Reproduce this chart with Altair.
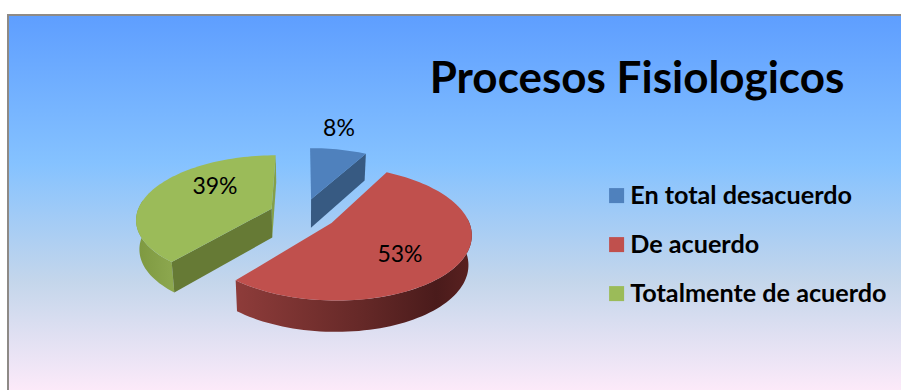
import math
import altair as alt

# Survey shares and their labels
categories = ["En total desacuerdo", "De acuerdo", "Totalmente de acuerdo"]
shares = [8, 53, 39]
top_colors = ["#4F81BD", "#C0504D", "#9BBB59"]
title_text = "Procesos Fisiologicos"

W, H = 901, 390

# Oblique view of the exploded disc: centre, radii, perspective strength, thickness
CX, CY = 303.0, 214.0
RX, RY = 135.0, 62.9
PERSP = 0.15
THICK = 29.0
LOWER_SHRINK = 0.98
EXPLODE = 0.25
RIM_FROM, RIM_TO = 86.0, 278.0
STEP = 2.0

# Slice boundaries in degrees, clockwise from twelve o'clock
total = sum(shares)
bounds = [0.0]
for s in shares:
    bounds.append(bounds[-1] + 360.0 * s / total)


def disc_offset(i):
    mid = math.radians((bounds[i] + bounds[i + 1]) / 2)
    return EXPLODE * math.sin(mid), -EXPLODE * math.cos(mid)


def project(i, u, v, lower=False):
    ou, ov = disc_offset(i)
    uu, vv = u + ou, v + ov
    d = 1 - PERSP * vv
    x = RX * uu / d
    y = CY + RY * vv / d
    if lower:
        x *= LOWER_SHRINK
        y += THICK * (1 + 0.07 * vv)
    return [round(CX + x, 2), round(y, 2)]


def rim(i, a, b, lower=False):
    n = max(2, int(abs(b - a) / STEP) + 1)
    pts = []
    for k in range(n + 1):
        t = math.radians(a + (b - a) * k / n)
        pts.append(project(i, math.sin(t), -math.cos(t), lower))
    return pts


def polygon(ring, cat=None):
    ring = ring + [ring[0]]
    return {
        "type": "Feature",
        "cat": cat,
        "properties": {},
        "geometry": {"type": "Polygon", "coordinates": [ring]},
    }


def top_face(i):
    return polygon([project(i, 0, 0)] + rim(i, bounds[i], bounds[i + 1]), categories[i])


def cut_face(i, angle):
    t = math.radians(angle)
    u, v = math.sin(t), -math.cos(t)
    return polygon([
        project(i, 0, 0),
        project(i, u, v),
        project(i, u, v, True),
        project(i, 0, 0, True),
    ])


def wall(i, a, b):
    return polygon(rim(i, a, b) + rim(i, b, a, True))


def shape(feature, fill):
    return alt.Chart(alt.Data(values=[feature])).mark_geoshape(
        fill=fill, stroke=None
    ).project(type="identity", scale=1, translate=[0, 0])


def ramp(stops):
    return alt.Gradient(
        gradient="linear", x1=0, x2=1, y1=0, y2=0,
        stops=[alt.GradientStop(offset=o, color=c) for o, c in stops],
    )


backdrop = alt.Chart(alt.Data(values=[{}])).mark_rect(
    fill=alt.Gradient(
        gradient="linear", x1=0, x2=0, y1=0, y2=1,
        stops=[
            alt.GradientStop(offset=0, color="#5E9EFF"),
            alt.GradientStop(offset=0.39, color="#85C2FF"),
            alt.GradientStop(offset=0.70, color="#C4D6EB"),
            alt.GradientStop(offset=1, color="#FFEBFA"),
        ],
    ),
    stroke="#8E8A86",
    strokeWidth=2,
).encode(x=alt.value(8), x2=alt.value(W + 6), y=alt.value(15), y2=alt.value(H + 6))

sides = [
    shape(cut_face(0, bounds[1]), "#375A82"),
    shape(cut_face(2, bounds[3]), "#84A04A"),
    shape(wall(2, bounds[2], RIM_TO), ramp([(0, "#7D9840"), (1, "#8DA84F")])),
    shape(cut_face(2, bounds[2]), "#667A35"),
    shape(wall(1, RIM_FROM, bounds[2]),
          ramp([(0, "#8E3C3A"), (0.55, "#642827"), (0.85, "#4A1B1B"), (1, "#5A2120")])),
]

color = alt.Color(
    "cat:N",
    sort=categories,
    scale=alt.Scale(domain=categories, range=top_colors),
    legend=alt.Legend(
        title=None,
        orient="none",
        legendX=604,
        legendY=183,
        symbolType="square",
        symbolSize=225,
        symbolStrokeWidth=0,
        labelFont="Lato",
        labelFontWeight="bold",
        labelFontSize=25.2,
        labelColor="#000000",
        labelLimit=320,
        labelOffset=1,
        rowPadding=23,
        padding=0,
    ),
)

tops = alt.Chart(
    alt.Data(values=[top_face(i) for i in range(3)])
).mark_geoshape(stroke=None).encode(color=color).project(
    type="identity", scale=1, translate=[0, 0]
)

# Value labels, placed beside or on their slices
label_x = [339, 400, 215]
label_y = [129, 255, 187]
pct = alt.Chart(
    alt.Data(values=[
        {"t": f"{v}%", "px": px, "py": py}
        for v, px, py in zip(shares, label_x, label_y)
    ])
).mark_text(font="Lato", fontSize=23, color="#000000").encode(
    x=alt.X("px:Q", scale=None, axis=None),
    y=alt.Y("py:Q", scale=None, axis=None),
    text="t:N",
)

title = alt.Chart(alt.Data(values=[{"t": title_text}])).mark_text(
    font="Lato", fontWeight="bold", fontSize=44, color="#000000"
).encode(x=alt.value(637), y=alt.value(80), text="t:N")

chart = alt.layer(backdrop, *sides, tops, pct, title).properties(
    width=W, height=H, padding=0, autosize="none", background="#FFFFFF"
).configure_view(stroke=None)

chart.save("out.html", embed_options={"renderer": "svg", "actions": False})
